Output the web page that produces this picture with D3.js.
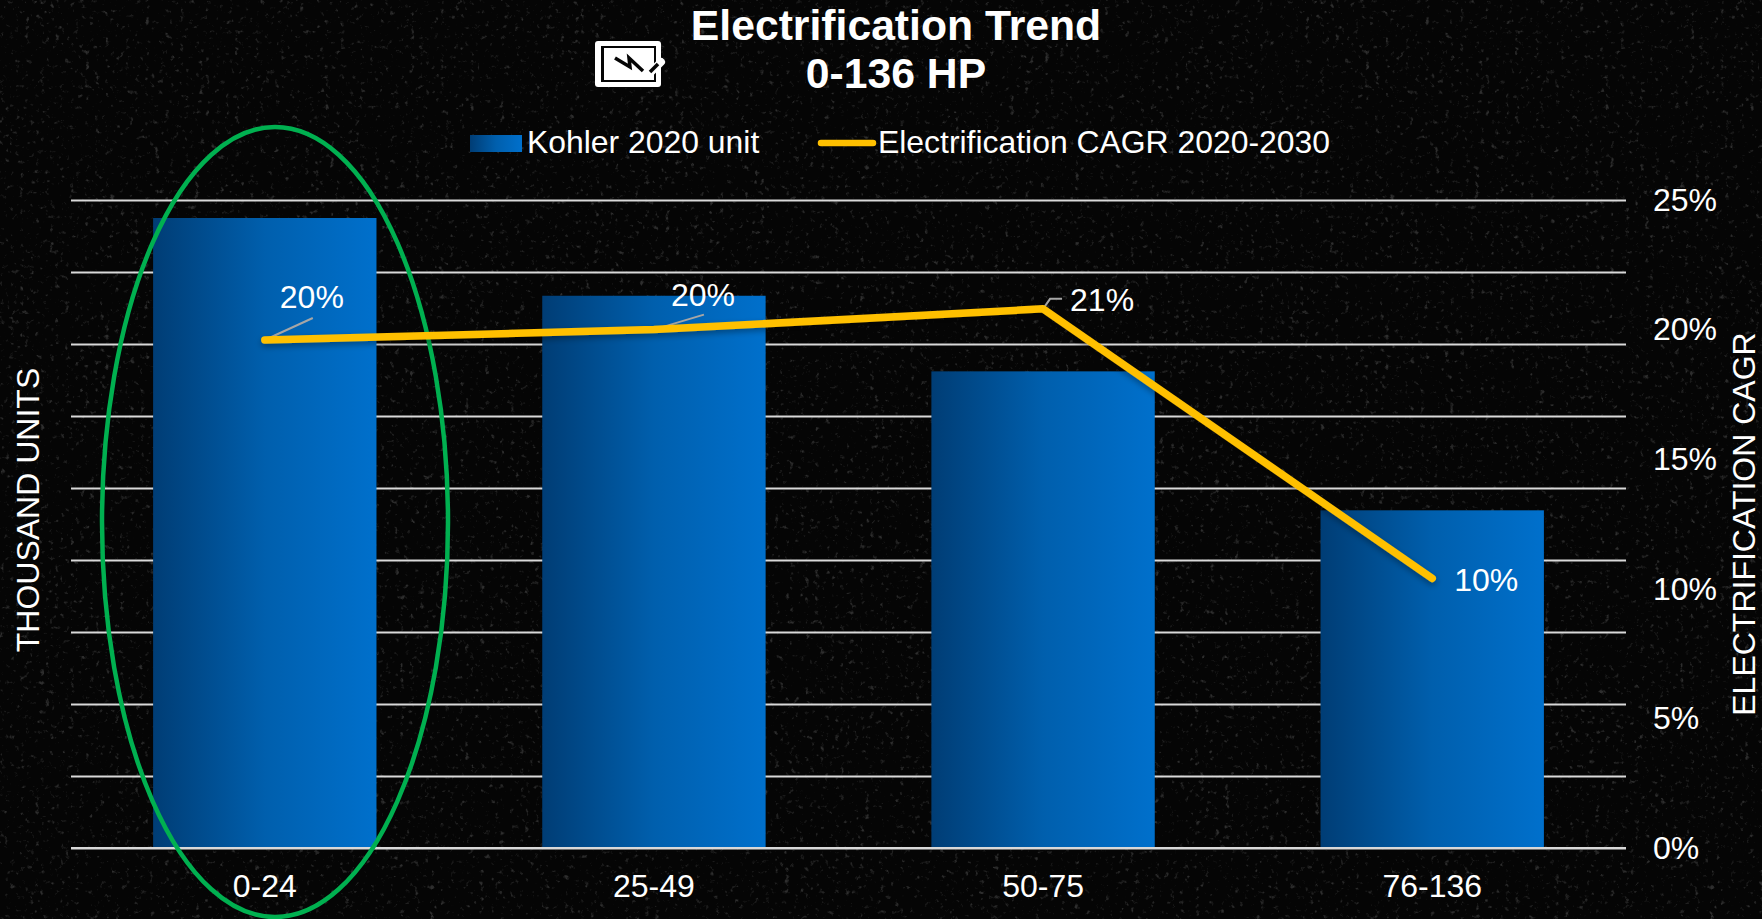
<!DOCTYPE html>
<html>

<head>
    <meta charset="utf-8">
    <style>
        html, body {
            margin: 0;
            background: #050505;
        }

        svg {
            display: block;
            font-family: "Liberation Sans", Arial, sans-serif;
        }

        text {
            fill: #fff;
        }

        .domain {
            display: none;
        }

        .grid .tick line {
            stroke: #d9d9d9;
            stroke-width: 2;
        }

        .grid .tick text {
            display: none;
        }

        .right .tick line {
            display: none;
        }

        .right .tick text,
        .x .tick text {
            font-size: 32px;
            font-family: "Liberation Sans", Arial, sans-serif;
            fill: #fff;
        }

        .x .tick line {
            display: none;
        }
    </style>
</head>

<body>
    <svg width="1762" height="919"></svg>
</body>

<script src="https://d3js.org/d3.v7.min.js"></script>

<script>
    let categories = ["0-24", "25-49", "50-75", "76-136"];
    let units2020 = [87.5, 76.7, 66.2, 46.9];
    let cagr = [0.196, 0.200, 0.208, 0.104];
    let gridTicks = [0, 10, 20, 30, 40, 50, 60, 70, 80, 90];
    let cagrTicks = [0, 0.05, 0.10, 0.15, 0.20, 0.25];

    let width = 1762;
    let height = 919;
    let margin = { top: 200, right: 136, bottom: 71, left: 71 };

    // label placement next to each line point: text start, baseline, then the leader line
    let labelOffsets = [
        { dx: 15, dy: -32, leader: [[0, 0], [48, -22]] },
        { dx: 17, dy: -24, leader: [[0, 0], [50, -15]] },
        { dx: 27, dy: 2, leader: [[0, 0], [7, -10], [19, -10]] },
        { dx: 22, dy: 13, leader: null }
    ];

    let svg = d3.select("svg");
    let defs = svg.append("defs");

    let grad = defs.append("linearGradient").attr("id", "barGrad");
    grad.append("stop").attr("offset", "0%").attr("stop-color", "#003d75");
    grad.append("stop").attr("offset", "50%").attr("stop-color", "#005fad");
    grad.append("stop").attr("offset", "100%").attr("stop-color", "#0070cc");

    // starry speckle behind the chart
    let speckle = defs.append("filter").attr("id", "speckle")
        .attr("x", 0).attr("y", 0).attr("width", "100%").attr("height", "100%");
    speckle.append("feTurbulence")
        .attr("type", "fractalNoise")
        .attr("baseFrequency", 0.2)
        .attr("numOctaves", 3)
        .attr("seed", 7);
    speckle.append("feColorMatrix")
        .attr("values", "0 0 0 0 1  0 0 0 0 1  0 0 0 0 1  3 3 0 0 -3.5");
    speckle.append("feGaussianBlur").attr("stdDeviation", 0.7);

    let lineShadow = defs.append("filter").attr("id", "lineShadow")
        .attr("x", "-5%").attr("y", "-20%").attr("width", "110%").attr("height", "140%");
    lineShadow.append("feDropShadow")
        .attr("dx", 0).attr("dy", 3).attr("stdDeviation", 3)
        .attr("flood-color", "#000").attr("flood-opacity", 0.35);

    svg.append("rect").attr("width", width).attr("height", height).attr("fill", "#050505");
    svg.append("rect").attr("width", width).attr("height", height)
        .attr("filter", "url(#speckle)").attr("opacity", 0.16);

    let x = d3.scaleBand()
        .domain(categories)
        .range([margin.left, width - margin.right])
        .paddingInner(0.426)
        .paddingOuter(0.211);

    let xPoint = d => x(d) + x.bandwidth() / 2;

    let yUnits = d3.scaleLinear()
        .domain([0, 90])
        .range([height - margin.bottom, margin.top]);

    let yCagr = d3.scaleLinear()
        .domain([0, 0.25])
        .range([height - margin.bottom, margin.top]);

    let gridAxis = d3.axisLeft(yUnits)
        .tickValues(gridTicks)
        .tickSize(-(width - margin.left - margin.right));

    svg.append("g")
        .attr("class", "grid")
        .attr("transform", `translate(${margin.left},0)`)
        .call(gridAxis);

    svg.append("g")
        .selectAll("rect")
        .data(units2020)
        .join("rect")
        .attr("x", (d, i) => x(categories[i]))
        .attr("width", x.bandwidth())
        .attr("y", d => yUnits(d))
        .attr("height", d => yUnits(0) - yUnits(d))
        .attr("fill", "url(#barGrad)");

    // baseline sits on top of the bars
    svg.append("line")
        .attr("x1", margin.left)
        .attr("x2", width - margin.right)
        .attr("y1", yUnits(0))
        .attr("y2", yUnits(0))
        .attr("stroke", "#d9d9d9")
        .attr("stroke-width", 2);

    let xAxis = d3.axisBottom(x).tickSize(0).tickPadding(26);
    svg.append("g")
        .attr("class", "x")
        .attr("transform", `translate(0,${height - margin.bottom})`)
        .call(xAxis);

    let rightAxis = d3.axisRight(yCagr)
        .tickValues(cagrTicks)
        .tickSize(0)
        .tickPadding(27)
        .tickFormat(d3.format(".0%"));

    svg.append("g")
        .attr("class", "right")
        .attr("transform", `translate(${width - margin.right},0)`)
        .call(rightAxis);

    // highlight around the first group
    svg.append("ellipse")
        .attr("cx", 275)
        .attr("cy", 522)
        .attr("rx", 173)
        .attr("ry", 395)
        .attr("fill", "none")
        .attr("stroke", "#00b050")
        .attr("stroke-width", 4.5);

    let leaderLine = d3.line();

    svg.append("g")
        .selectAll("path")
        .data(labelOffsets.filter(d => d.leader))
        .join("path")
        .attr("transform", (d, i) => `translate(${xPoint(categories[i])},${yCagr(cagr[i])})`)
        .attr("d", d => leaderLine(d.leader))
        .attr("fill", "none")
        .attr("stroke", "#a6a6a6")
        .attr("stroke-width", 2);

    let trend = d3.line()
        .x((d, i) => xPoint(categories[i]))
        .y(d => yCagr(d));

    svg.append("path")
        .datum(cagr)
        .attr("d", trend)
        .attr("fill", "none")
        .attr("stroke", "#ffc000")
        .attr("stroke-width", 7.5)
        .attr("stroke-linecap", "round")
        .attr("stroke-linejoin", "round")
        .attr("filter", "url(#lineShadow)");

    svg.append("g")
        .selectAll("text")
        .data(cagr)
        .join("text")
        .attr("x", (d, i) => xPoint(categories[i]) + labelOffsets[i].dx)
        .attr("y", (d, i) => yCagr(d) + labelOffsets[i].dy)
        .attr("font-size", "32px")
        .text(d3.format(".0%"));

    svg.append("text")
        .attr("transform", "translate(39,510) rotate(-90)")
        .attr("text-anchor", "middle")
        .attr("font-size", "32px")
        .text("THOUSAND UNITS");

    svg.append("text")
        .attr("transform", "translate(1755,524) rotate(-90)")
        .attr("text-anchor", "middle")
        .attr("font-size", "32px")
        .text("ELECTRIFICATION CAGR");

    let title = svg.append("text")
        .attr("text-anchor", "middle")
        .attr("font-size", "42.7px")
        .attr("font-weight", "bold");
    title.append("tspan").attr("x", 896).attr("y", 40).text("Electrification Trend");
    title.append("tspan").attr("x", 896).attr("y", 88).text("0-136 HP");

    // legend
    let legend = svg.append("g").attr("class", "legend");
    legend.append("rect")
        .attr("x", 470).attr("y", 135)
        .attr("width", 52).attr("height", 17)
        .attr("fill", "url(#barGrad)");
    legend.append("text")
        .attr("x", 527).attr("y", 153)
        .attr("font-size", "31.9px")
        .text("Kohler 2020 unit");
    legend.append("line")
        .attr("x1", 821).attr("x2", 873)
        .attr("y1", 143).attr("y2", 143)
        .attr("stroke", "#ffc000")
        .attr("stroke-width", 6.5)
        .attr("stroke-linecap", "round");
    legend.append("text")
        .attr("x", 878).attr("y", 153)
        .attr("font-size", "31.9px")
        .text("Electrification CAGR 2020-2030");

    // battery / charge icon next to the title
    let icon = svg.append("g").attr("transform", "translate(595,41)");
    icon.append("rect")
        .attr("width", 66).attr("height", 46).attr("rx", 3)
        .attr("fill", "#fff");
    icon.append("rect")
        .attr("x", 6).attr("y", 5).attr("width", 55).attr("height", 36)
        .attr("fill", "#050505");
    icon.append("rect")
        .attr("x", 9).attr("y", 7).attr("width", 50).attr("height", 32)
        .attr("fill", "#fff");
    icon.append("path")
        .attr("d", "M20 17 L35 26 L34 17 L48 30")
        .attr("fill", "none")
        .attr("stroke", "#050505")
        .attr("stroke-width", 3.5);
    icon.append("path")
        .attr("d", "M56 31 L66 21")
        .attr("stroke", "#fff")
        .attr("stroke-width", 8)
        .attr("stroke-linecap", "round");
    icon.append("path")
        .attr("d", "M55 31 L63 23")
        .attr("stroke", "#050505")
        .attr("stroke-width", 3.5);
</script>

</html>
